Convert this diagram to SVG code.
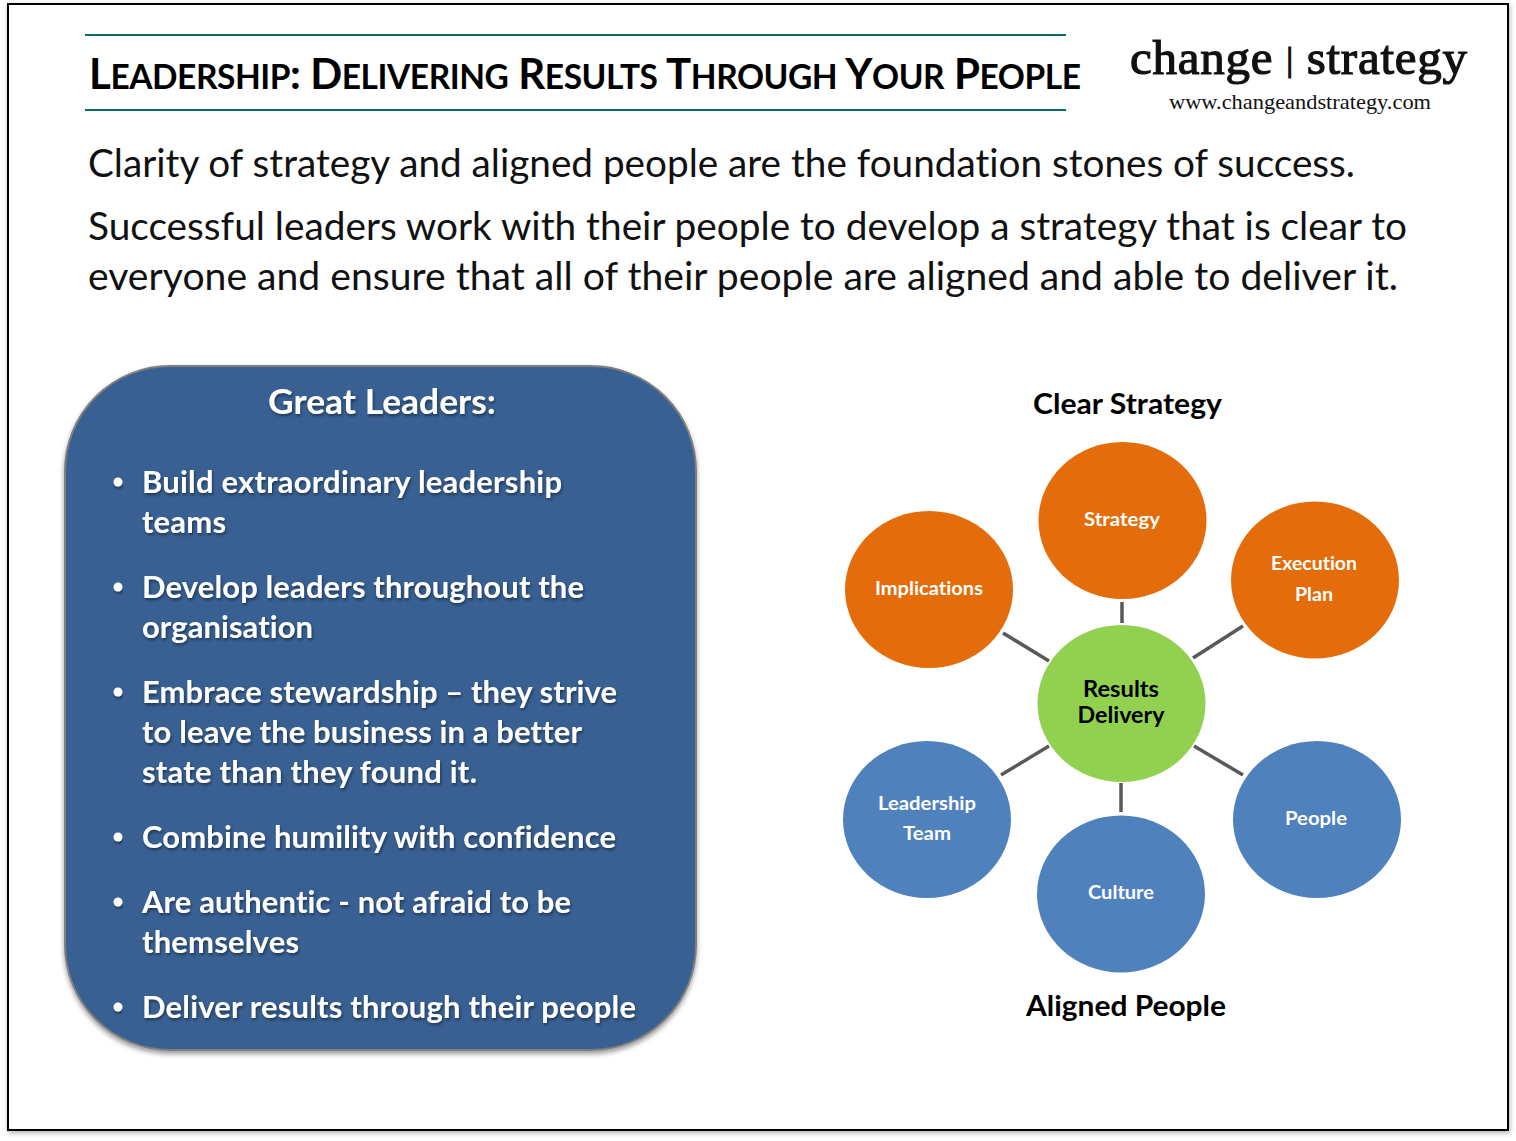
<svg xmlns="http://www.w3.org/2000/svg" width="1516" height="1141" viewBox="0 0 1516 1141">
<style>
text{font-family:"Lato","Liberation Sans",sans-serif;font-variant-ligatures:none}
.body{font-size:38px;fill:#111}
.title{font-size:42px;font-weight:700;fill:#000}
.title .sc{font-size:33.5px}
.logo{font-family:"Liberation Serif",serif;fill:#111}
.head{font-size:35px;font-weight:700;fill:#fff;filter:url(#ts)}
.li{font-size:31px;font-weight:700;fill:#fff;filter:url(#ts)}
.cap{font-size:28px;font-weight:700;fill:#000}
.n{font-size:19.5px;font-weight:700;fill:#fff;text-anchor:middle}
.c{font-size:23px;font-weight:700;fill:#000;text-anchor:middle}
.o{fill:#e46c0a}.b{fill:#4f81bd}.g{fill:#92d050}
.rule{stroke:#0b6a66;stroke-width:2;fill:none}
#connectors line{stroke:#595959;stroke-width:3.5}
</style>
<defs>
<filter id="ts" x="-5%" y="-20%" width="110%" height="150%"><feDropShadow dx="1" dy="2" stdDeviation="1.5" flood-color="#000" flood-opacity=".45"/></filter>
<filter id="bs" x="-5%" y="-5%" width="110%" height="110%"><feDropShadow dx="0" dy="3" stdDeviation="2.5" flood-color="#000" flood-opacity=".4"/></filter>
<filter id="fs" x="-2%" y="-2%" width="104%" height="104%"><feDropShadow dx="1" dy="2" stdDeviation="2.5" flood-color="#000" flood-opacity=".3"/></filter>
</defs>
<rect width="1516" height="1141" fill="#fff"/>
<rect id="frame" x="8" y="4" width="1500" height="1126" fill="#fff" stroke="#000" stroke-width="2" filter="url(#fs)"/>
<g id="header">
<line class="rule" x1="85" y1="35" x2="1066" y2="35"/>
<line class="rule" x1="85" y1="110" x2="1066" y2="110"/>
<text class="title" x="89" y="89" textLength="992" lengthAdjust="spacing">L<tspan class="sc">EADERSHIP</tspan>: D<tspan class="sc">ELIVERING</tspan> R<tspan class="sc">ESULTS</tspan> T<tspan class="sc">HROUGH</tspan> Y<tspan class="sc">OUR</tspan> P<tspan class="sc">EOPLE</tspan></text>
<text class="logo" x="1130" y="74" font-size="49" stroke="#111" stroke-width="1.2" textLength="337" lengthAdjust="spacing">change <tspan font-size="34" dy="-3">|</tspan><tspan dy="3"> strategy</tspan></text>
<text class="logo" x="1169" y="109" font-size="21" textLength="262" lengthAdjust="spacingAndGlyphs">www.changeandstrategy.com</text>
</g>
<g id="intro">
<text class="body" x="88" y="177" textLength="1267" lengthAdjust="spacingAndGlyphs">Clarity of strategy and aligned people are the foundation stones of success.</text>
<text class="body" x="88" y="240" textLength="1319" lengthAdjust="spacingAndGlyphs">Successful leaders work with their people to develop a strategy that is clear to</text>
<text class="body" x="88" y="290" textLength="1310" lengthAdjust="spacingAndGlyphs">everyone and ensure that all of their people are aligned and able to deliver it.</text>
</g>
<g id="great-leaders">
<rect x="65" y="366" width="631" height="684" rx="105" ry="105" fill="#386192" stroke="#7f7f7f" stroke-width="2" filter="url(#bs)"/>
<text class="head" x="268" y="414" textLength="228" lengthAdjust="spacingAndGlyphs">Great Leaders:</text>
<g fill="#fff" filter="url(#ts)">
<circle cx="118" cy="482" r="4.5"/><circle cx="118" cy="587" r="4.5"/><circle cx="118" cy="692" r="4.5"/><circle cx="118" cy="837" r="4.5"/><circle cx="118" cy="902" r="4.5"/><circle cx="118" cy="1007" r="4.5"/>
</g>
<text class="li" x="142" y="493" textLength="420" lengthAdjust="spacing">Build extraordinary leadership</text>
<text class="li" x="142" y="533" textLength="84" lengthAdjust="spacing">teams</text>
<text class="li" x="142" y="598" textLength="442" lengthAdjust="spacing">Develop leaders throughout the</text>
<text class="li" x="142" y="638" textLength="171" lengthAdjust="spacing">organisation</text>
<text class="li" x="142" y="703" textLength="475" lengthAdjust="spacing">Embrace stewardship – they strive</text>
<text class="li" x="142" y="743" textLength="440" lengthAdjust="spacing">to leave the business in a better</text>
<text class="li" x="142" y="783" textLength="335" lengthAdjust="spacing">state than they found it.</text>
<text class="li" x="142" y="848" textLength="474" lengthAdjust="spacing">Combine humility with confidence</text>
<text class="li" x="142" y="913" textLength="429" lengthAdjust="spacing">Are authentic - not afraid to be</text>
<text class="li" x="142" y="953" textLength="157" lengthAdjust="spacing">themselves</text>
<text class="li" x="142" y="1018" textLength="494" lengthAdjust="spacing">Deliver results through their people</text>
</g>
<text id="cap-top" class="cap" x="1033" y="414" textLength="189" lengthAdjust="spacingAndGlyphs">Clear Strategy</text>
<text id="cap-bottom" class="cap" x="1026" y="1016" textLength="200" lengthAdjust="spacingAndGlyphs">Aligned People</text>
<g id="connectors">
<line x1="1122" y1="602" x2="1122" y2="623"/>
<line x1="1003" y1="633" x2="1049" y2="661"/>
<line x1="1193" y1="658" x2="1243" y2="626"/>
<line x1="1049" y1="746" x2="1001" y2="775"/>
<line x1="1194" y1="746" x2="1243" y2="775"/>
<line x1="1121" y1="783" x2="1121" y2="812"/>
</g>
<g id="results"><ellipse class="g" cx="1121.500" cy="703.500" rx="84" ry="78.500"/><text class="c" x="1121" y="697" textLength="76" lengthAdjust="spacingAndGlyphs">Results</text><text class="c" x="1121" y="723" textLength="87" lengthAdjust="spacingAndGlyphs">Delivery</text></g>
<g id="strategy"><ellipse class="o" cx="1122.500" cy="520.500" rx="84" ry="78.500"/><text class="n" x="1122" y="526" textLength="76" lengthAdjust="spacingAndGlyphs">Strategy</text></g>
<g id="implications"><ellipse class="o" cx="929" cy="589.500" rx="84" ry="78.500"/><text class="n" x="929" y="595" textLength="108" lengthAdjust="spacingAndGlyphs">Implications</text></g>
<g id="execution"><ellipse class="o" cx="1315" cy="580" rx="84" ry="78.500"/><text class="n" x="1314" y="570" textLength="86" lengthAdjust="spacingAndGlyphs">Execution</text><text class="n" x="1314" y="601" textLength="38" lengthAdjust="spacingAndGlyphs">Plan</text></g>
<g id="people"><ellipse class="b" cx="1317" cy="819.500" rx="84" ry="78.500"/><text class="n" x="1316" y="825" textLength="62" lengthAdjust="spacingAndGlyphs">People</text></g>
<g id="leadership"><ellipse class="b" cx="927" cy="819.500" rx="84" ry="78.500"/><text class="n" x="927" y="810" textLength="98" lengthAdjust="spacingAndGlyphs">Leadership</text><text class="n" x="927" y="840" textLength="48" lengthAdjust="spacingAndGlyphs">Team</text></g>
<g id="culture"><ellipse class="b" cx="1121" cy="894" rx="84" ry="78.500"/><text class="n" x="1121" y="899" textLength="66" lengthAdjust="spacingAndGlyphs">Culture</text></g>
</svg>
